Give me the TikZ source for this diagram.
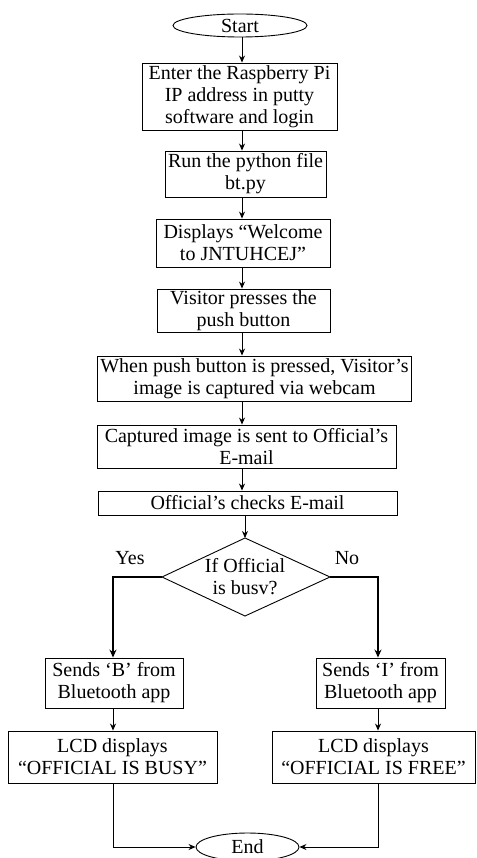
\documentclass[tikz,border=0pt]{standalone}
\usepackage{fontspec}
\setmainfont{Liberation Serif}
\usetikzlibrary{shapes.geometric,arrows.meta}
\begin{document}
\begin{tikzpicture}[x=1pt,y=-1pt,
  txt/.style={font=\fontsize{20}{22}\selectfont},
  box/.style={draw, line width=0.9pt, inner sep=0pt, align=center, txt},
  term/.style={draw, ellipse, line width=0.9pt, inner sep=0pt, txt},
  arr/.style={-{Stealth[length=7pt,width=6pt]}, line width=0.9pt},
  arrb/.style={-{Stealth[length=8pt,width=7pt]}, line width=1.6pt}]
\useasboundingbox (0,0) rectangle (476,858);
\coordinate (ax) at (242,0);
\coordinate (lx) at (113,0);
\coordinate (rx) at (378,0);
\node[term, minimum width=134pt, minimum height=23pt] (start) at (240,25.5) {Start};
\node[box, minimum width=195pt, minimum height=67pt] (b1) at (239.5,96.5) {Enter the Raspberry Pi\\IP address in putty\\software and login};
\node[box, minimum width=161pt, minimum height=46pt] (b2) at (245.5,174) {Run the python file\\bt.py};
\node[box, minimum width=174pt, minimum height=48pt] (b3) at (243,243) {Displays “Welcome\\to JNTUHCEJ”};
\node[box, minimum width=173pt, minimum height=43pt] (b4) at (243.5,310.5) {Visitor presses the\\push button};
\node[box, minimum width=314pt, minimum height=45pt] (b5) at (254.5,378.5) {When push button is pressed, Visitor’s\\image is captured via webcam};
\node[box, minimum width=299pt, minimum height=43pt] (b6) at (246.5,446.5) {Captured image is sent to Official’s\\E-mail};
\node[box, minimum width=299pt, minimum height=24pt] (b7) at (247.5,503) {Official’s checks E-mail};
\coordinate (dt) at (245,538);
\coordinate (dl) at (162,577);
\coordinate (dr) at (330,577);
\coordinate (db) at (245,616);
\draw[line width=0.9pt] (dt) -- (dr) -- (db) -- (dl) -- cycle;
\node[inner sep=0pt, txt, align=center] (d) at (245,577) {If Official\\is busv?};
\node[txt] (yes) at (130,558) {Yes};
\node[txt] (no) at (347,558) {No};
\node[box, minimum width=138pt, minimum height=50pt] (bB) at (114,683) {Sends ‘B’ from\\Bluetooth app};
\node[box, minimum width=129pt, minimum height=50pt] (bI) at (380.5,683) {Sends ‘I’ from\\Bluetooth app};
\node[box, minimum width=209pt, minimum height=52pt] (lB) at (112.5,757) {LCD displays\\“OFFICIAL IS BUSY”};
\node[box, minimum width=203pt, minimum height=52pt] (lF) at (373.5,757) {LCD displays\\“OFFICIAL IS FREE”};
\node[term, minimum width=103pt, minimum height=28pt] (end) at (247.5,847) {End};
\draw[arr] (start.south -| ax) -- (b1.north -| ax);
\draw[arr] (b1.south -| ax) -- (b2.north -| ax);
\draw[arr] (b2.south -| ax) -- (b3.north -| ax);
\draw[arr] (b3.south -| ax) -- (b4.north -| ax);
\draw[arr] (b4.south -| ax) -- (b5.north -| ax);
\draw[arr] (b5.south -| ax) -- (b6.north -| ax);
\draw[arr] (b6.south -| ax) -- (b7.north -| ax);
\draw[arr] (b7.south -| dt) -- (dt);
\draw[arrb] (dl) -| (bB.north -| lx);
\draw[arrb] (dr) -| (bI.north -| rx);
\draw[arr] (bB.south -| lx) -- (lB.north -| lx);
\draw[arr] (bI.south -| rx) -- (lF.north -| rx);
\draw[arr] (lB.south -| lx) |- (end.west);
\draw[arr] (lF.south -| rx) |- (end.east);
\end{tikzpicture}
\end{document}
